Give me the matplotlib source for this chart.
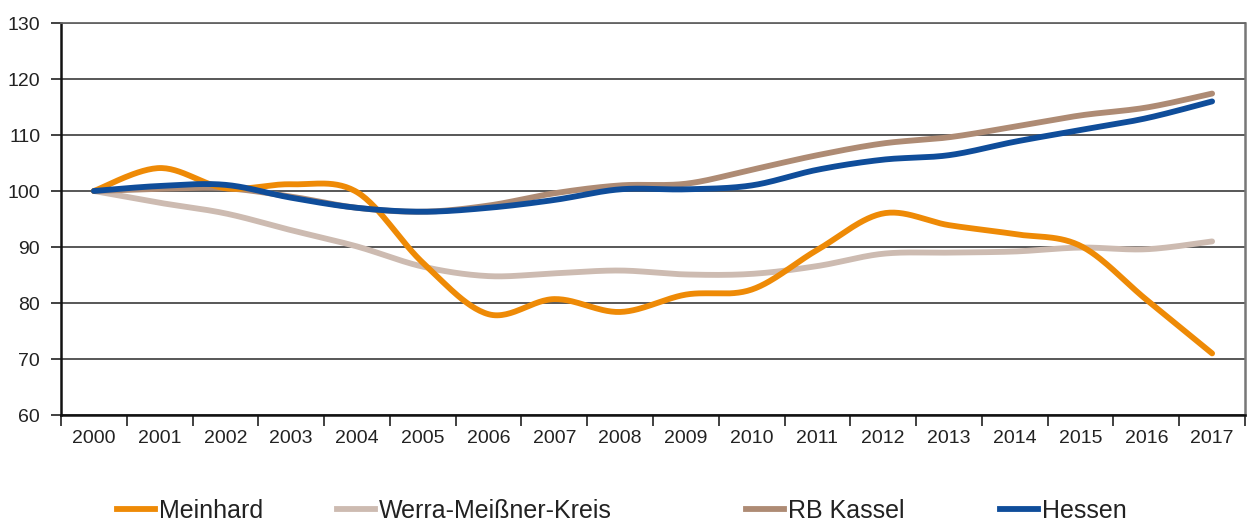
import numpy as np
import matplotlib
matplotlib.use("Agg")
import matplotlib.pyplot as plt
from matplotlib.lines import Line2D

plt.rcParams['font.family'] = ['Liberation Sans', 'DejaVu Sans']
tick_fs, leg_fs = 14, 18

years = [str(y) for y in range(2000, 2018)]
meinhard = [100, 104.1, 100.5, 101.2, 99.8, 87.2, 78.0, 80.7, 78.4, 81.5, 82.4, 89.5, 96.0, 93.9, 92.3, 90.2, 80.6, 71.0]
werra = [100, 97.9, 96.0, 93.0, 90.1, 86.5, 84.8, 85.3, 85.8, 85.1, 85.2, 86.6, 88.8, 89.0, 89.2, 89.9, 89.6, 91.0]
rb_kassel = [100, 100.4, 100.5, 99.0, 97.0, 96.3, 97.4, 99.6, 101.0, 101.3, 103.8, 106.4, 108.5, 109.6, 111.5, 113.5, 114.9, 117.4]
hessen = [100, 100.9, 101.1, 98.8, 97.0, 96.3, 97.0, 98.4, 100.3, 100.3, 101.0, 103.8, 105.6, 106.4, 108.8, 110.9, 113.0, 116.0]

series_names = ["Meinhard", "Werra-Meißner-Kreis", "RB Kassel", "Hessen"]
colors = ["#EE8A06", "#CDBBB1", "#AE8B74", "#0F4D9A"]
zorders = [4, 2, 3, 5]


def smooth(xs, ys, n=30):
    # Excel-like Catmull-Rom smoothing (cubic Bezier through data points)
    xs = np.asarray(xs, float)
    ys = np.asarray(ys, float)
    px, py = [], []
    N = len(xs)
    for i in range(N - 1):
        p0 = np.array([xs[max(i - 1, 0)], ys[max(i - 1, 0)]])
        p1 = np.array([xs[i], ys[i]])
        p2 = np.array([xs[i + 1], ys[i + 1]])
        p3 = np.array([xs[min(i + 2, N - 1)], ys[min(i + 2, N - 1)]])
        c1 = p1 + (p2 - p0) / 6.0
        c2 = p2 - (p3 - p1) / 6.0
        t = np.linspace(0, 1, n, endpoint=(i == N - 2))[:, None]
        b = ((1 - t) ** 3) * p1 + 3 * ((1 - t) ** 2) * t * c1 + 3 * (1 - t) * t ** 2 * c2 + t ** 3 * p2
        px.extend(b[:, 0])
        py.extend(b[:, 1])
    return np.array(px), np.array(py)


fig = plt.figure(figsize=(12.5, 5.23), dpi=100)
ax = fig.add_axes([0.0488, 0.2065, 0.9472, 0.7495])

x = np.arange(len(years))
handles = []
for name, vals, c, z in zip(series_names, [meinhard, werra, rb_kassel, hessen], colors, zorders):
    sx, sy = smooth(x, vals)
    ln, = ax.plot(sx, sy, color=c, lw=4.2, solid_capstyle='round', zorder=z, label=name)
    handles.append(ln)

ax.set_xlim(-0.5, len(years) - 0.5)
ax.set_ylim(60, 130)
ax.set_yticks(np.arange(60, 131, 10))
ax.set_xticks(x)
ax.set_xticklabels(years)
ax.set_xticks(np.arange(-0.5, len(years), 1.0), minor=True)

ax.yaxis.grid(True, color="#4a4a4a", lw=1.3)
ax.set_axisbelow(True)

ax.tick_params(axis='x', which='major', length=0, pad=11, labelsize=tick_fs, labelcolor="#222222")
ax.tick_params(axis='x', which='minor', length=8, width=1.3, direction='out', color="#333333")
ax.tick_params(axis='y', which='major', length=7, width=1.3, direction='out', pad=8, labelsize=tick_fs,
               labelcolor="#222222", color="#333333")

for s in ['left', 'bottom']:
    ax.spines[s].set_color("#111111")
    ax.spines[s].set_linewidth(1.8)
ax.spines['right'].set_color("#777777")
ax.spines['right'].set_linewidth(1.8)
ax.spines['top'].set_color("#666666")
ax.spines['top'].set_linewidth(1.3)

# legend entries positioned like the reference
leg_x = [117, 337, 746, 1000]
for h, lx in zip(handles, leg_x):
    proxy = Line2D([], [], color=h.get_color(), lw=4.2)
    fig.legend([proxy], [h.get_label()], loc='center left',
               bbox_to_anchor=(lx / 1250, 1 - 511 / 523), frameon=False,
               fontsize=leg_fs, handlelength=38 / (leg_fs * 100 / 72), handletextpad=0.15,
               borderpad=0, borderaxespad=0, labelcolor="#222222")

fig.savefig("out.png", dpi=100)
